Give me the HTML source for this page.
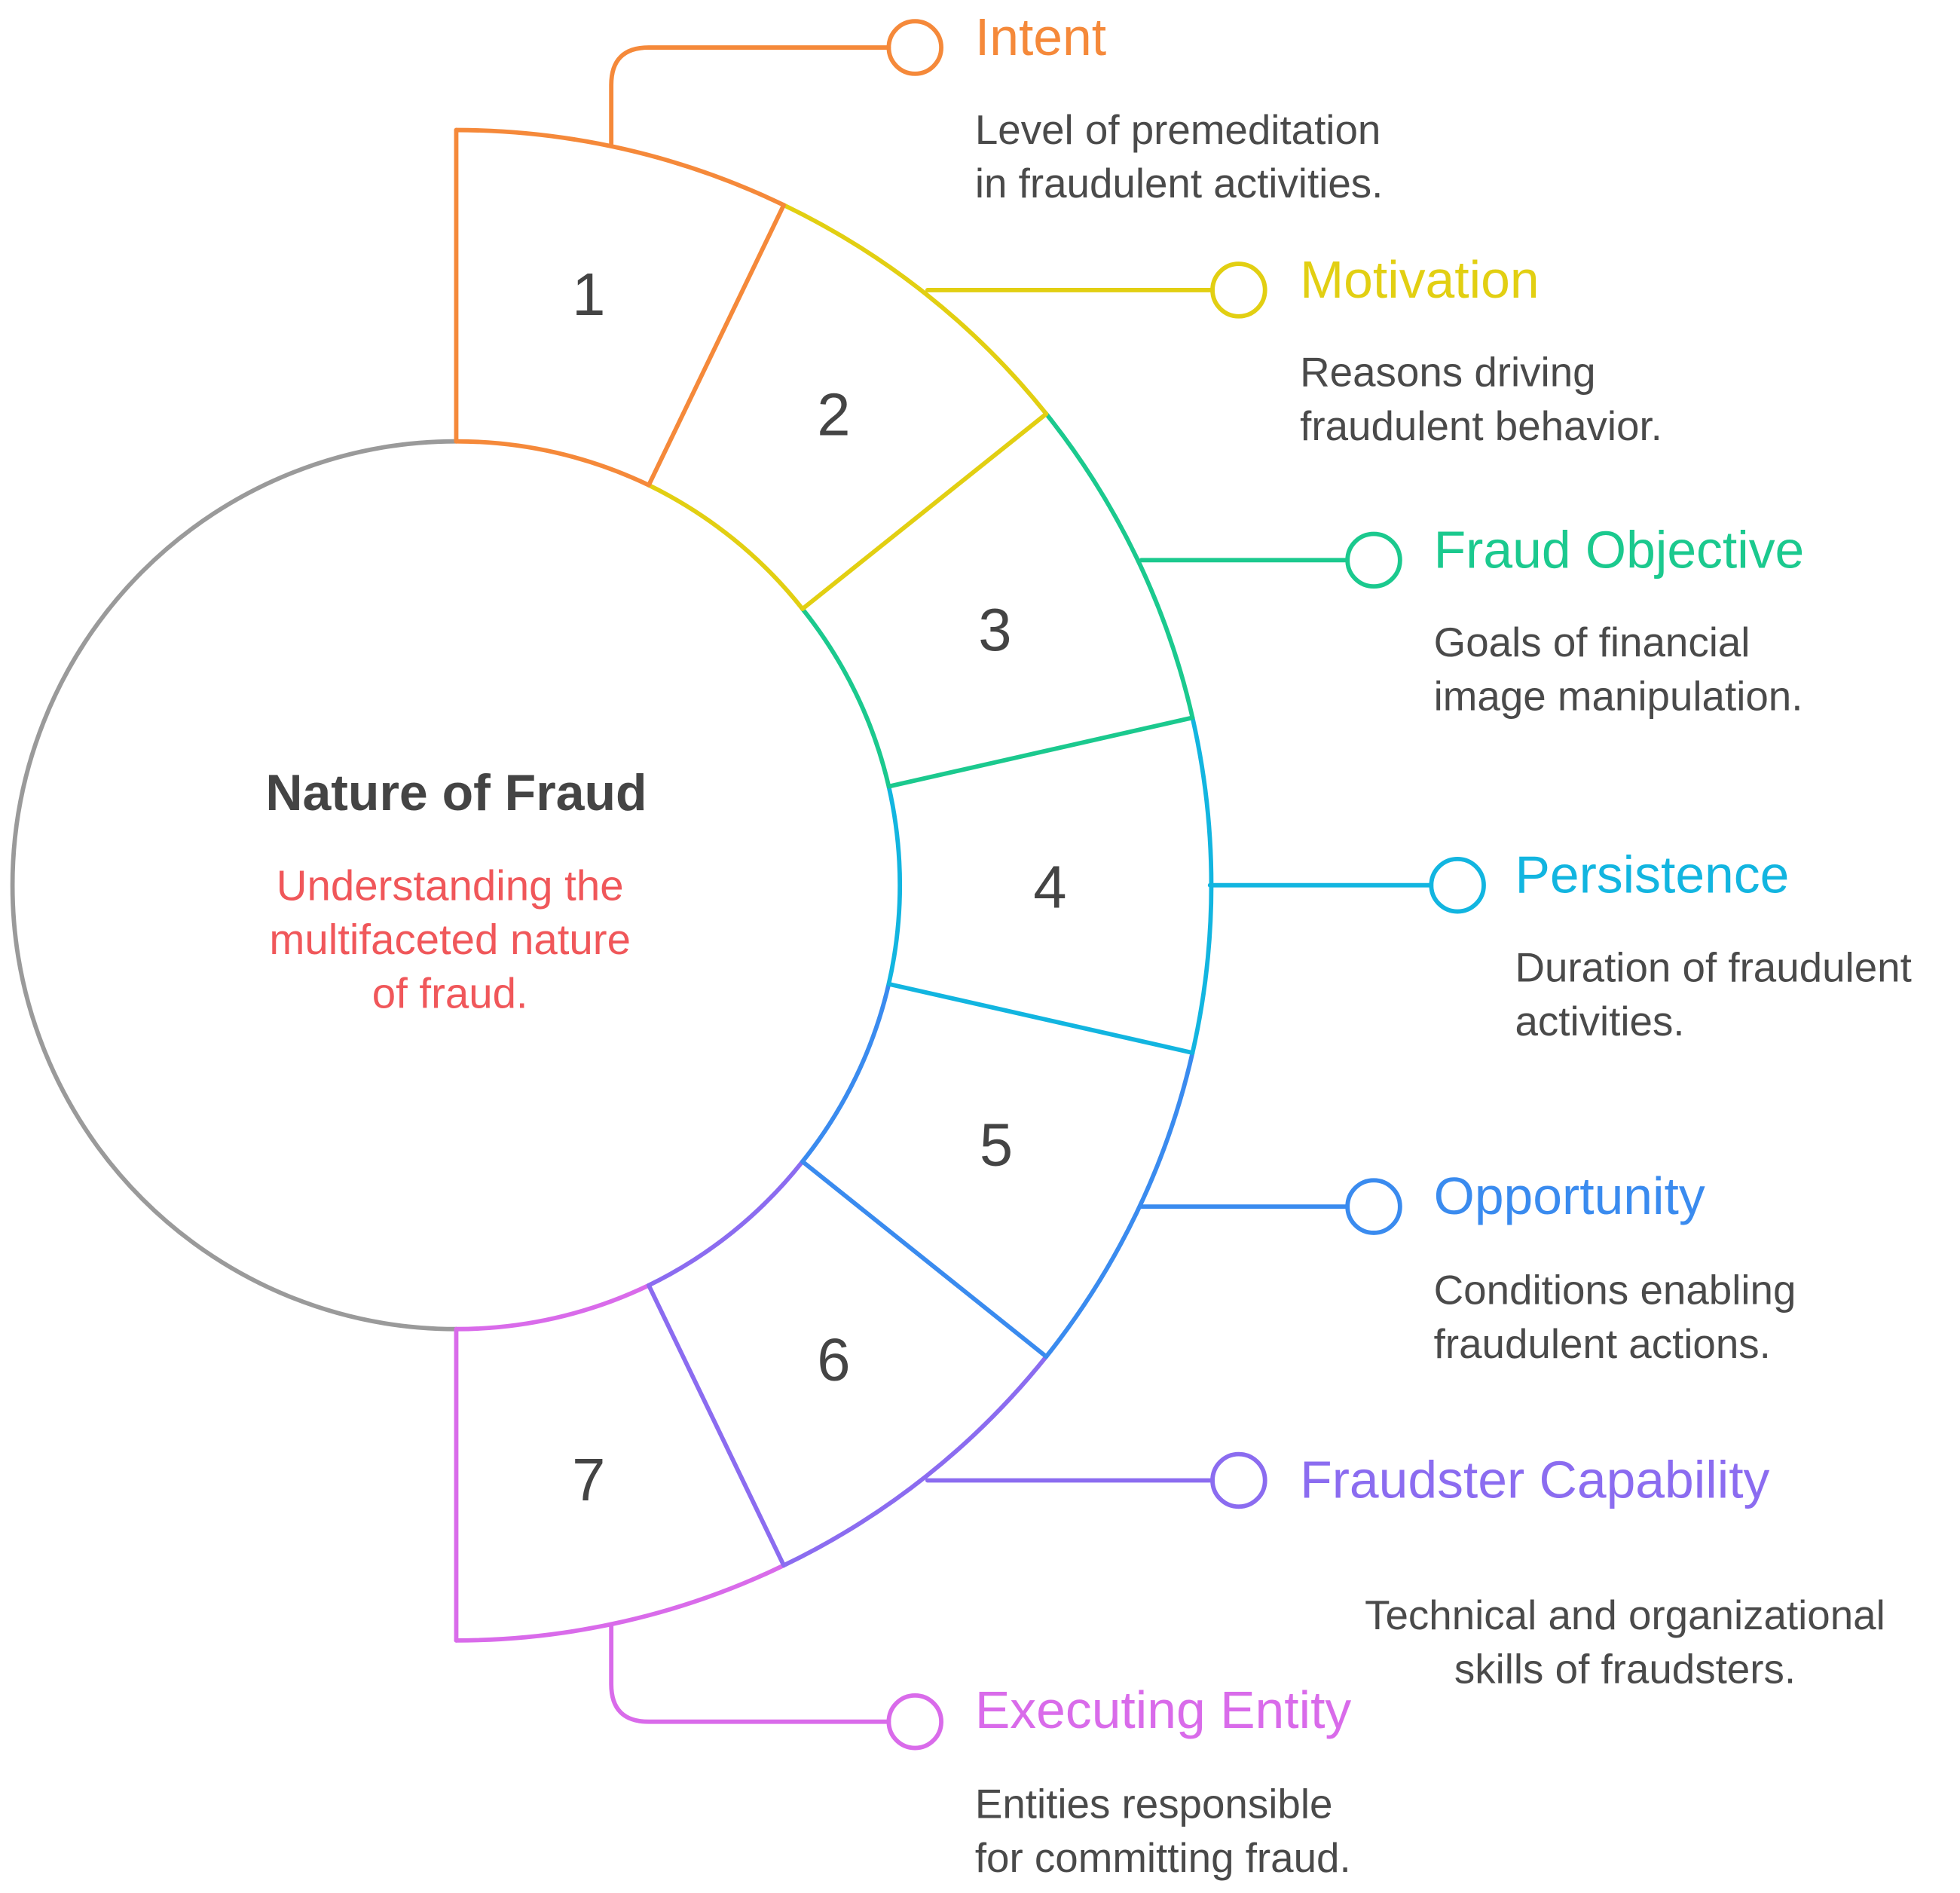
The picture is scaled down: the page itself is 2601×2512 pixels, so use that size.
<!DOCTYPE html>
<html><head><meta charset="utf-8"><style>
html,body{margin:0;padding:0;background:#fff}
svg{display:block}
text{font-family:"Liberation Sans",Arial,sans-serif}
</style></head><body>
<svg width="2601" height="2512" viewBox="0 0 1568 1514" preserveAspectRatio="none" xmlns="http://www.w3.org/2000/svg">
<g fill="none" stroke-width="3.5" stroke-linecap="round">
<!-- inner circle grey left half -->
<path d="M365 353 A355 355 0 0 0 365 1063" stroke="#9a9a9a"/>
<!-- inner arcs right -->
<path d="M365 353 A355 355 0 0 1 519 388" stroke="#F5893A"/>
<path d="M519 388 A355 355 0 0 1 642 487" stroke="#E2CF12"/>
<path d="M642 487 A355 355 0 0 1 711 629" stroke="#1BC98E"/>
<path d="M711 629 A355 355 0 0 1 711 787" stroke="#12B5E0"/>
<path d="M711 787 A355 355 0 0 1 642 929" stroke="#3A8BEF"/>
<path d="M642 929 A355 355 0 0 1 519 1028" stroke="#8B6CF0"/>
<path d="M519 1028 A355 355 0 0 1 365 1063" stroke="#D96BEA"/>
<!-- outer arcs -->
<path d="M365 104 A604 604 0 0 1 627 164" stroke="#F5893A"/>
<path d="M627 164 A604 604 0 0 1 837 331" stroke="#E2CF12"/>
<path d="M837 331 A604 604 0 0 1 954 574" stroke="#1BC98E"/>
<path d="M954 574 A604 604 0 0 1 954 842" stroke="#12B5E0"/>
<path d="M954 842 A604 604 0 0 1 837 1085" stroke="#3A8BEF"/>
<path d="M837 1085 A604 604 0 0 1 627 1252" stroke="#8B6CF0"/>
<path d="M627 1252 A604 604 0 0 1 365 1312" stroke="#D96BEA"/>
<!-- radial lines -->
<line x1="365" y1="353" x2="365" y2="104" stroke="#F5893A"/>
<line x1="519" y1="388" x2="627" y2="164" stroke="#F5893A"/>
<line x1="642" y1="487" x2="837" y2="331" stroke="#E2CF12"/>
<line x1="711" y1="629" x2="954" y2="574" stroke="#1BC98E"/>
<line x1="711" y1="787" x2="954" y2="842" stroke="#12B5E0"/>
<line x1="642" y1="929" x2="837" y2="1085" stroke="#3A8BEF"/>
<line x1="519" y1="1028" x2="627" y2="1252" stroke="#8B6CF0"/>
<line x1="365" y1="1063" x2="365" y2="1312" stroke="#D96BEA"/>
<!-- connectors -->
<path d="M489 115 L489 68 Q489 38 519 38 L711 38" stroke="#F5893A"/>
<circle cx="732" cy="38" r="21" stroke="#F5893A"/>
<path d="M742 232 L970 232" stroke="#E2CF12"/>
<circle cx="991" cy="232" r="21" stroke="#E2CF12"/>
<path d="M913 448 L1078 448" stroke="#1BC98E"/>
<circle cx="1099" cy="448" r="21" stroke="#1BC98E"/>
<path d="M968 708 L1145 708" stroke="#12B5E0"/>
<circle cx="1166" cy="708" r="21" stroke="#12B5E0"/>
<path d="M913 965 L1078 965" stroke="#3A8BEF"/>
<circle cx="1099" cy="965" r="21" stroke="#3A8BEF"/>
<path d="M742 1184 L970 1184" stroke="#8B6CF0"/>
<circle cx="991" cy="1184" r="21" stroke="#8B6CF0"/>
<path d="M489 1300 L489 1347 Q489 1377 519 1377 L711 1377" stroke="#D96BEA"/>
<circle cx="732" cy="1377" r="21" stroke="#D96BEA"/>
</g>
<g font-size="48" fill="#444" text-anchor="middle">
<text x="471" y="252">1</text>
<text x="667" y="348">2</text>
<text x="796" y="520">3</text>
<text x="840" y="726">4</text>
<text x="797" y="932">5</text>
<text x="667" y="1104">6</text>
<text x="471" y="1200">7</text>
</g>
<text x="365" y="648" font-size="41" font-weight="bold" fill="#444" text-anchor="middle">Nature of Fraud</text>
<g font-size="34" fill="#F0575A" text-anchor="middle">
<text x="360" y="720">Understanding the</text>
<text x="360" y="763">multifaceted nature</text>
<text x="360" y="806">of fraud.</text>
</g>
<g font-size="42">
<text x="780" y="44" fill="#F5893A">Intent</text>
<text x="1040" y="238" fill="#E2CF12">Motivation</text>
<text x="1147" y="454" fill="#1BC98E">Fraud Objective</text>
<text x="1212" y="714" fill="#12B5E0">Persistence</text>
<text x="1147" y="971" fill="#3A8BEF">Opportunity</text>
<text x="1040" y="1198" fill="#8B6CF0">Fraudster Capability</text>
<text x="780" y="1382" fill="#D96BEA">Executing Entity</text>
</g>
<g font-size="33" fill="#4a4a4a">
<text x="780" y="115">Level of premeditation</text>
<text x="780" y="158">in fraudulent activities.</text>
<text x="1040" y="309">Reasons driving</text>
<text x="1040" y="352">fraudulent behavior.</text>
<text x="1147" y="525">Goals of financial</text>
<text x="1147" y="568">image manipulation.</text>
<text x="1212" y="785">Duration of fraudulent</text>
<text x="1212" y="828">activities.</text>
<text x="1147" y="1043">Conditions enabling</text>
<text x="1147" y="1086">fraudulent actions.</text>
<text x="1300" y="1303" text-anchor="middle">Technical and organizational</text>
<text x="1300" y="1346" text-anchor="middle">skills of fraudsters.</text>
<text x="780" y="1454">Entities responsible</text>
<text x="780" y="1497">for committing fraud.</text>
</g>
</svg>
</body></html>
